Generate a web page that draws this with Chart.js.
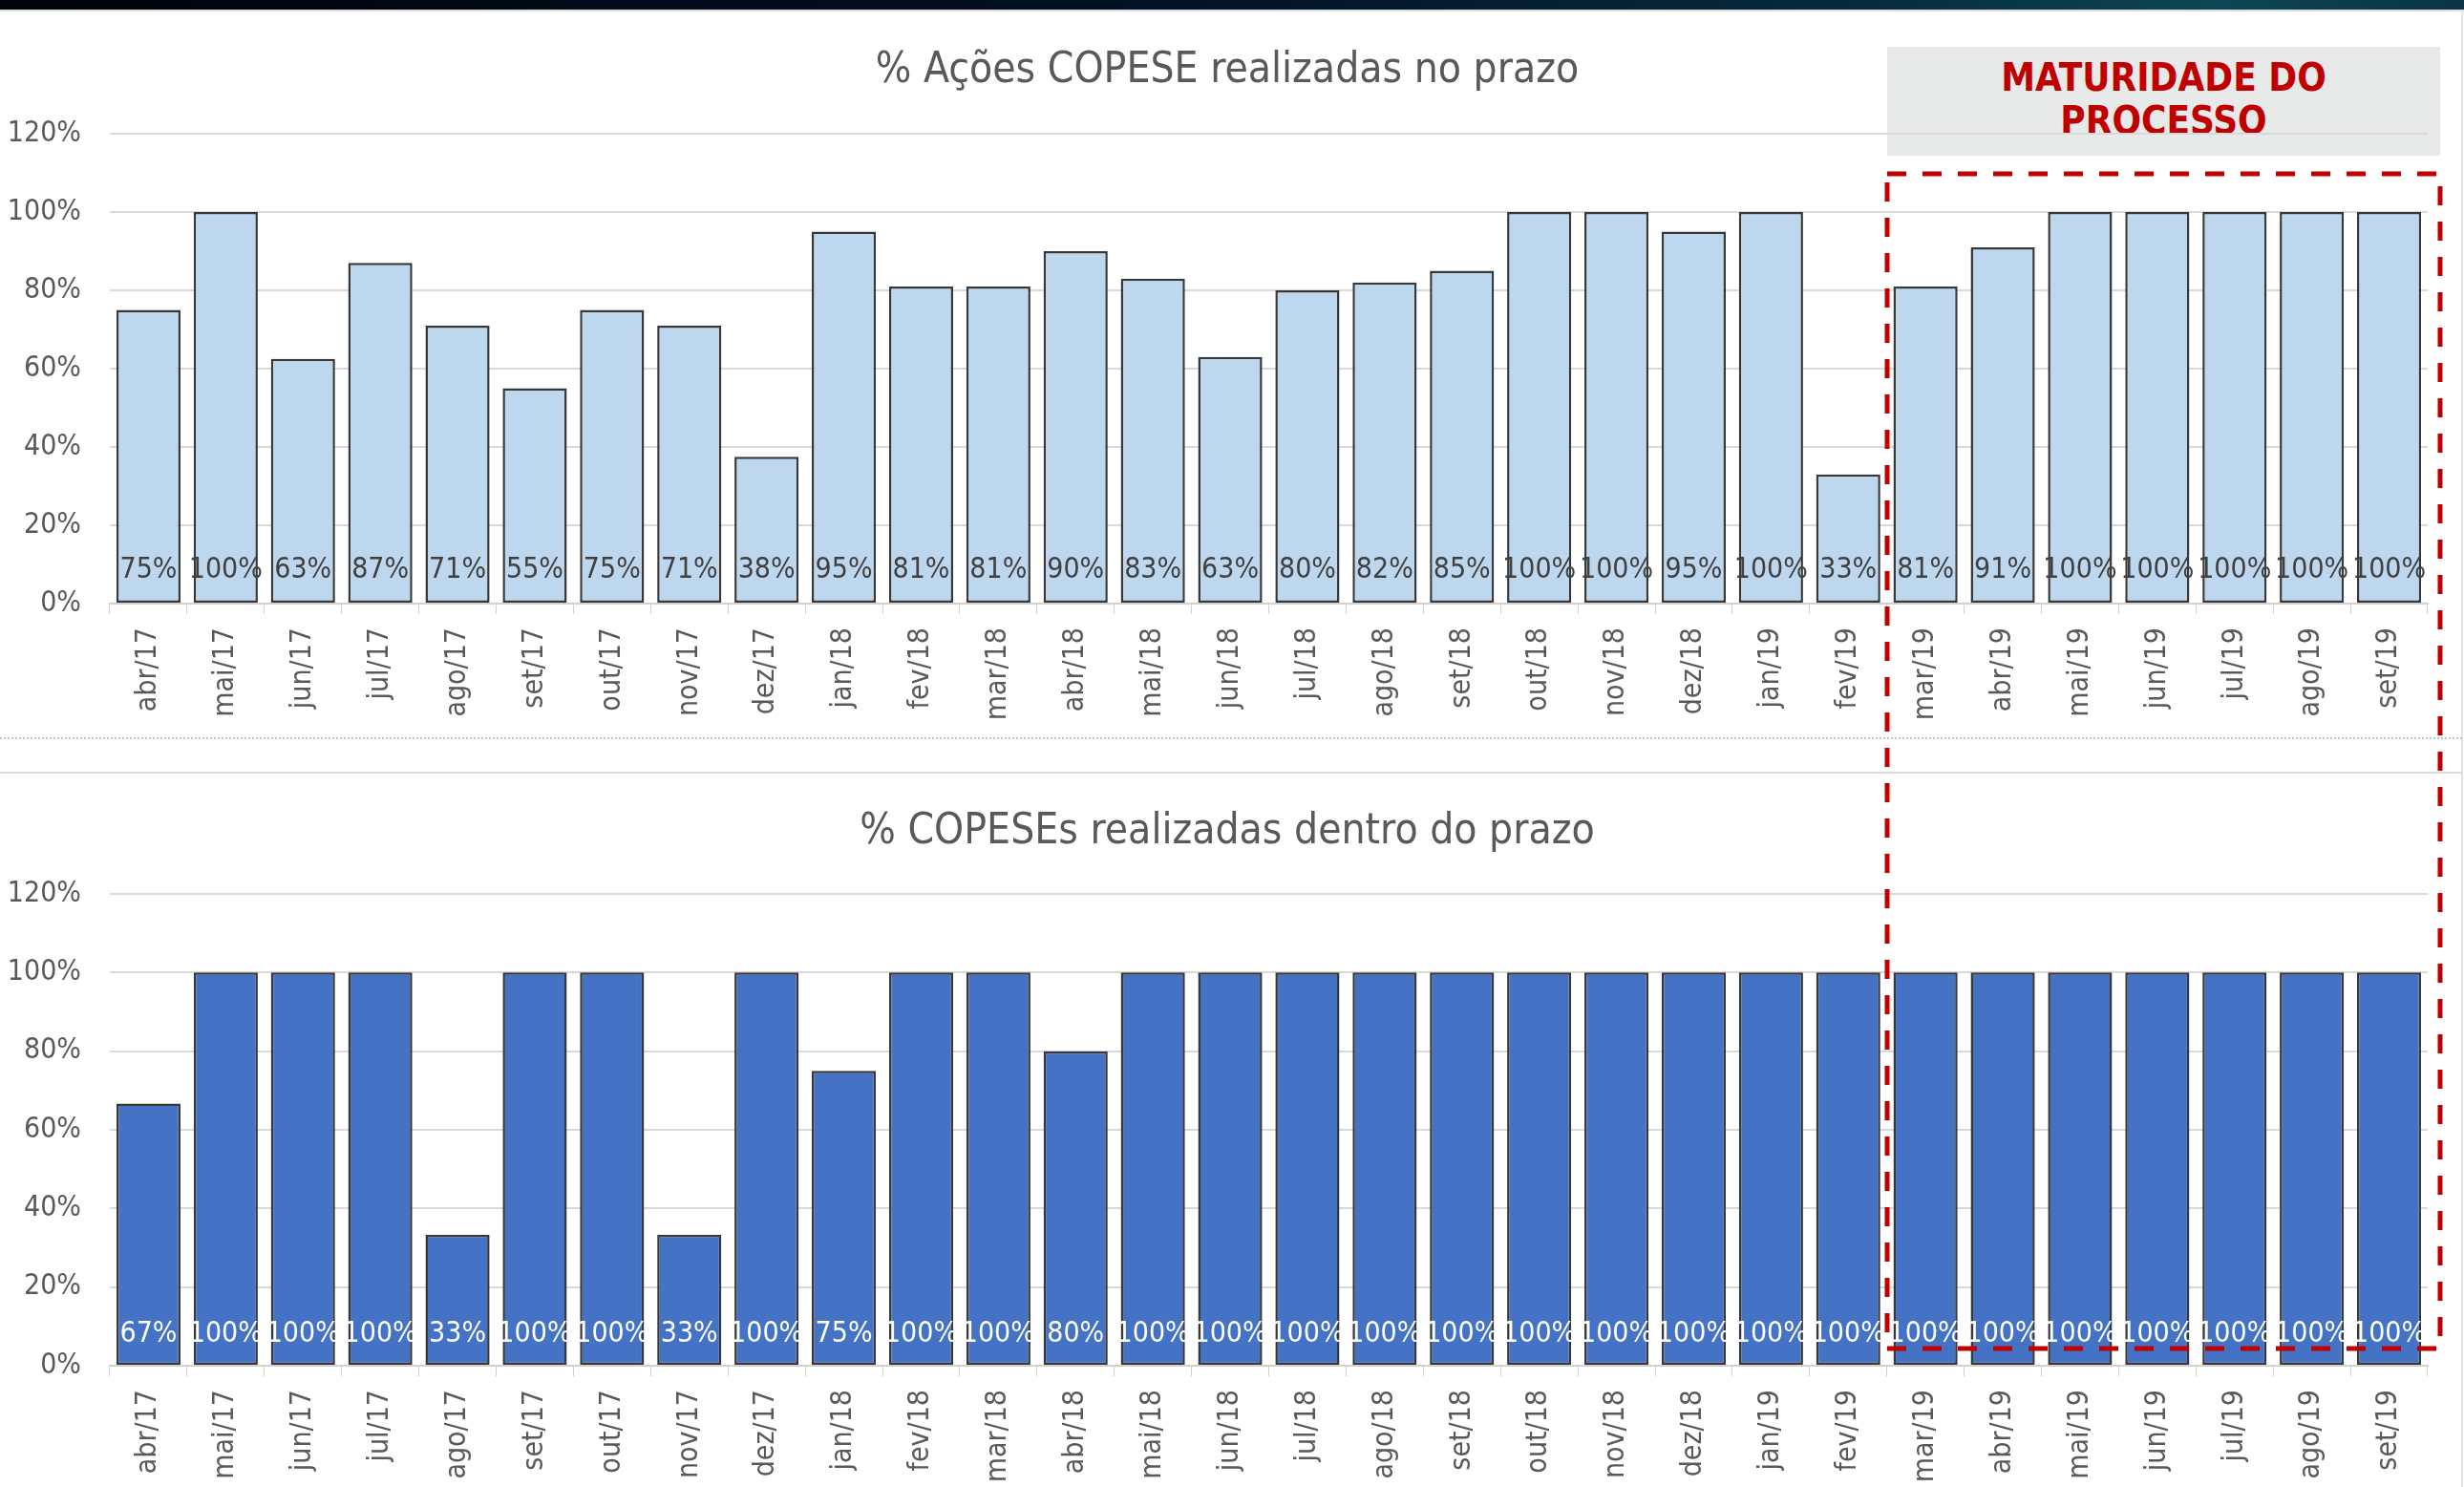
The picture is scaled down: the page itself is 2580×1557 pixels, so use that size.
<!DOCTYPE html>
<html><head><meta charset="utf-8">
<script src="https://cdn.jsdelivr.net/npm/chart.js@4.4.1/dist/chart.umd.min.js"></script>
<style>
html,body{margin:0;padding:0;background:#fff;}
#page{position:relative;width:2580px;height:1557px;overflow:hidden;background:#fff;}
.abs{position:absolute;}
#strip{left:0;top:0;width:2580px;height:10px;background:linear-gradient(90deg,#01040a 0%,#021022 45%,#062a3c 75%,#0d4656 90%,#0a3444 100%);z-index:5;}
#stripline{left:0;top:10px;width:2580px;height:2px;background:#dedede;z-index:5;}
#rightline{left:2577px;top:10px;width:2px;height:1547px;background:#e2e2e2;z-index:5;}
#sep1{left:0;top:772px;width:2578px;height:0;border-top:2px dotted #c4c4c4;z-index:5;}
#sep2{left:0;top:808px;width:2578px;height:2px;background:#d9d9d9;z-index:5;}
#box{left:1976px;top:49px;width:579px;height:114px;background:#e8e9e9;z-index:1;
 font-family:'Liberation Sans Narrow','DejaVu Sans Condensed','Roboto Condensed','Open Sans',sans-serif;font-weight:bold;color:#c00000;
 font-size:40px;line-height:45px;text-align:center;padding-top:10px;box-sizing:border-box;}
#c1{left:0;top:0;z-index:2;}
#c2{left:0;top:810px;z-index:2;}
#ov{left:0;top:0;z-index:6;}
</style></head>
<body><div id="page">
<div id="box" class="abs">MATURIDADE DO<br>PROCESSO</div>
<canvas id="c1" class="abs" width="2580" height="773"></canvas>
<canvas id="c2" class="abs" width="2580" height="747"></canvas>
<div id="strip" class="abs"></div>
<div id="stripline" class="abs"></div>
<div id="rightline" class="abs"></div>
<div id="sep1" class="abs"></div>
<div id="sep2" class="abs"></div>
<svg id="ov" class="abs" width="2580" height="1557">
<rect x="1976" y="182" width="579" height="1230" fill="none" stroke="#c00000" stroke-width="5" stroke-dasharray="20 17"/>
</svg>
</div>
<script>
const months = ['abr/17','mai/17','jun/17','jul/17','ago/17','set/17','out/17','nov/17','dez/17','jan/18','fev/18','mar/18','abr/18','mai/18','jun/18','jul/18','ago/18','set/18','out/18','nov/18','dez/18','jan/19','fev/19','mar/19','abr/19','mai/19','jun/19','jul/19','ago/19','set/19'];
const acoesNoPrazo = [75,100,62.5,87,71,55,75,71,37.5,95,81,81,90,83,63,80,82,85,100,100,95,100,33,81,91,100,100,100,100,100];
const copesesNoPrazo = [66.7,100,100,100,33.3,100,100,33.3,100,75,100,100,80,100,100,100,100,100,100,100,100,100,100,100,100,100,100,100,100,100];
const yTicks = [0,20,40,60,80,100,120];
const title1 = '% Ações COPESE realizadas no prazo';
const title2 = '% COPESEs realizadas dentro do prazo';

const FONT = "'Liberation Sans Narrow','DejaVu Sans Condensed','Roboto Condensed','Open Sans',sans-serif";
Chart.defaults.font.family = FONT;
Chart.defaults.color = '#595959';

const valueLabels = {
  id:'valueLabels',
  afterDatasetsDraw(chart, args, opts){
    const ctx = chart.ctx;
    const meta = chart.getDatasetMeta(0);
    const y0 = chart.scales.y.getPixelForValue(0);
    ctx.save();
    ctx.font = '30px ' + FONT;
    ctx.fillStyle = opts.color;
    ctx.textAlign = 'center';
    ctx.textBaseline = 'middle';
    meta.data.forEach((bar,i)=>{
      const v = chart.data.datasets[0].data[i];
      ctx.fillText(Math.round(v)+'%', bar.x, y0 - opts.offset);
    });
    ctx.restore();
  }
};

const chartTitle = {
  id:'chartTitle',
  afterDraw(chart, args, opts){
    const ctx = chart.ctx;
    ctx.save();
    ctx.font = '44px ' + FONT;
    ctx.fillStyle = '#595959';
    ctx.textAlign = 'center';
    ctx.textBaseline = 'middle';
    ctx.fillText(opts.text, opts.x, opts.y);
    ctx.restore();
  }
};

function makeChart(id, data, fill, labelColor, title, titleY, plotTop, xHeight, labelOffset){
  return new Chart(document.getElementById(id), {
    type:'bar',
    data:{labels:months, datasets:[{data:data, backgroundColor:fill, borderColor:'#383838', borderWidth:2.5, borderSkipped:false, categoryPercentage:1, barPercentage:0.83}]},
    plugins:[valueLabels, chartTitle],
    options:{
      responsive:false, animation:false,
      layout:{padding:{left:0,right:38,top:plotTop,bottom:0}},
      plugins:{
        legend:{display:false}, tooltip:{enabled:false}, title:{display:false},
        chartTitle:{text:title, x:1285, y:titleY},
        valueLabels:{color:labelColor, offset:labelOffset}
      },
      scales:{
        x:{
          grid:{display:true, drawOnChartArea:false, drawTicks:true, tickLength:11, tickColor:'#d0d0d0', offset:true},
          border:{display:true, color:'#d0d0d0', width:2},
          ticks:{minRotation:90, maxRotation:90, autoSkip:false, padding:14, color:'#595959', font:{size:30}},
          afterFit(s){ s.height = xHeight; }
        },
        y:{
          min:0, max:120,
          afterBuildTicks(s){ s.ticks = yTicks.map(v=>({value:v})); },
          grid:{color:'#d9d9d9', lineWidth:2, drawTicks:false},
          border:{display:false},
          ticks:{padding:30, color:'#595959', font:{size:30}, callback:v=>v+'%'},
          afterFit(s){ s.width = 115; }
        }
      }
    }
  });
}
makeChart('c1', acoesNoPrazo, '#bdd7ee', '#404040', title1, 75, 140, 141, 35);
makeChart('c2', copesesNoPrazo, '#4472c4', '#ffffff', title2, 62, 126, 127, 33);
</script>
</body></html>
